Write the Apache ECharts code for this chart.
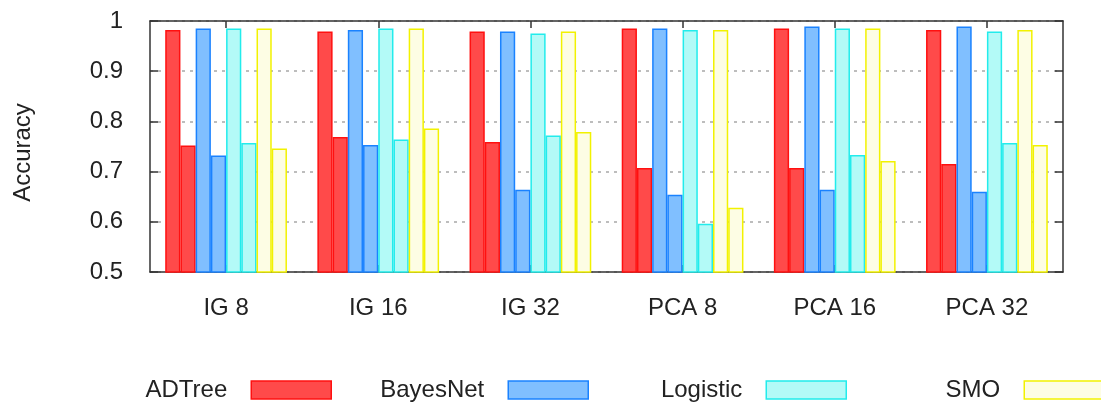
<!DOCTYPE html>
<html>
<head>
<meta charset="utf-8">
<script src="https://cdn.jsdelivr.net/npm/echarts@6/dist/echarts.min.js"></script>
<style>
html,body{margin:0;padding:0;background:#fff;}
#chart{width:1101px;height:405px;}
</style>
</head>
<body>
<div id="chart"></div>
<script>
const categories = ['IG 8', 'IG 16', 'IG 32', 'PCA 8', 'PCA 16', 'PCA 32'];
const yTicks = [0.5, 0.6, 0.7, 0.8, 0.9, 1];
const modelNames = ['ADTree', 'BayesNet', 'Logistic', 'SMO'];
const adtreeA = [0.982, 0.979, 0.979, 0.985, 0.985, 0.982];
const adtreeB = [0.752, 0.769, 0.759, 0.707, 0.707, 0.715];
const bayesA = [0.985, 0.982, 0.979, 0.985, 0.989, 0.989];
const bayesB = [0.732, 0.753, 0.664, 0.654, 0.664, 0.660];
const logisticA = [0.985, 0.985, 0.975, 0.982, 0.985, 0.979];
const logisticB = [0.757, 0.764, 0.772, 0.596, 0.733, 0.757];
const smoA = [0.985, 0.985, 0.979, 0.982, 0.985, 0.982];
const smoB = [0.746, 0.786, 0.779, 0.628, 0.721, 0.753];

const fills = ['#ff4a4a', '#80bfff', '#b3faf7', '#fdfde4'];
const borders = ['#ff1010', '#1a82ff', '#22ecec', '#f2f200'];
const seriesData = [[adtreeA, adtreeB], [bayesA, bayesB], [logisticA, logisticB], [smoA, smoB]];

const FONT = 'Liberation Sans, Arial, sans-serif';
const FS = 24;
const series = [];
modelNames.forEach((name, i) => {
  seriesData[i].forEach(arr => {
    series.push({
      name: name,
      type: 'bar',
      data: arr,
      barGap: '0%',
      barCategoryGap: '20%',
      itemStyle: { color: fills[i], borderColor: borders[i], borderWidth: 1.5 }
    });
  });
});

const legendRights = [769, 512, 254, -4];
const legends = modelNames.map((name, i) => ({
  data: [{ name: name, icon: 'rect', itemStyle: { color: fills[i], borderColor: borders[i], borderWidth: 1.5 } }],
  right: legendRights[i],
  top: 378,
  padding: 0,
  align: 'right',
  itemWidth: 80,
  itemHeight: 18,
  selectedMode: false,
  textStyle: { fontFamily: FONT, fontSize: FS, color: '#222', padding: [0, 19, 0, 0] }
}));

const axisLineStyle = { color: '#333', width: 1.5 };
const chart = echarts.init(document.getElementById('chart'), null, { renderer: 'canvas' });
chart.setOption({
  animation: false,
  backgroundColor: '#fff',
  legend: legends,
  grid: { left: 150, right: 38, top: 21, bottom: 133, containLabel: false },
  xAxis: [
    {
      type: 'category', data: categories, position: 'bottom',
      axisLine: { lineStyle: axisLineStyle },
      axisTick: { show: true, alignWithLabel: true, inside: true, length: 7, lineStyle: axisLineStyle },
      axisLabel: { fontFamily: FONT, fontSize: FS, color: '#222', margin: 24 },
      splitLine: { show: false }
    },
    {
      type: 'category', data: categories, position: 'top',
      axisLine: { lineStyle: axisLineStyle },
      axisTick: { show: true, alignWithLabel: true, inside: true, length: 7, lineStyle: axisLineStyle },
      axisLabel: { show: false },
      splitLine: { show: false }
    }
  ],
  yAxis: [
    {
      type: 'value', min: yTicks[0], max: yTicks[yTicks.length - 1], interval: 0.1, position: 'left',
      name: 'Accuracy', nameLocation: 'middle', nameGap: 115, nameRotate: 90,
      nameTextStyle: { fontFamily: FONT, fontSize: FS, color: '#222', padding: [0, 12, 0, 0] },
      axisLine: { show: true, lineStyle: axisLineStyle },
      axisTick: { show: true, inside: true, length: 8, lineStyle: axisLineStyle },
      axisLabel: { fontFamily: FONT, fontSize: FS, color: '#222', margin: 27,
        formatter: v => String(Math.round(v * 10) / 10) },
      splitLine: { show: true, lineStyle: { color: '#a8a8a8', width: 1.5, type: [3, 5] } }
    },
    {
      type: 'value', min: yTicks[0], max: yTicks[yTicks.length - 1], interval: 0.1, position: 'right',
      axisLine: { show: true, lineStyle: axisLineStyle },
      axisTick: { show: true, inside: true, length: 8, lineStyle: axisLineStyle },
      axisLabel: { show: false },
      splitLine: { show: false }
    }
  ],
  series: series
});
</script>
</body>
</html>
